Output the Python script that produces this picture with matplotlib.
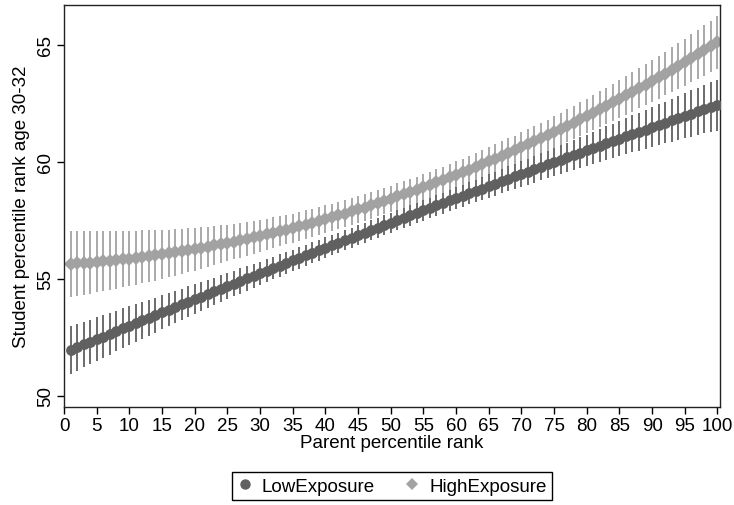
import numpy as np
import matplotlib
matplotlib.use("Agg")
import matplotlib.pyplot as plt
from matplotlib.lines import Line2D

plt.rcParams['font.family'] = ['Liberation Sans', 'DejaVu Sans']

# parent percentile rank 1..100
parent_rank = np.arange(1, 101)

low_mean = [
    51.97, 52.08, 52.20, 52.31, 52.43, 52.54, 52.66, 52.77, 52.89, 53.00,
    53.11, 53.23, 53.34, 53.45, 53.57, 53.68, 53.79, 53.91, 54.02, 54.13,
    54.24, 54.35, 54.47, 54.58, 54.69, 54.80, 54.91, 55.02, 55.13, 55.24,
    55.35, 55.46, 55.57, 55.68, 55.79, 55.90, 56.01, 56.11, 56.22, 56.33,
    56.44, 56.55, 56.65, 56.76, 56.87, 56.97, 57.08, 57.19, 57.29, 57.40,
    57.51, 57.61, 57.72, 57.82, 57.93, 58.03, 58.14, 58.24, 58.35, 58.45,
    58.55, 58.66, 58.76, 58.86, 58.97, 59.07, 59.17, 59.28, 59.38, 59.48,
    59.58, 59.68, 59.79, 59.89, 59.99, 60.09, 60.19, 60.29, 60.39, 60.49,
    60.59, 60.69, 60.79, 60.89, 60.99, 61.09, 61.19, 61.28, 61.38, 61.48,
    61.58, 61.68, 61.77, 61.87, 61.97, 62.06, 62.16, 62.26, 62.35, 62.42,
]
low_ci = [
    1.02, 1.00, 0.98, 0.95, 0.93, 0.91, 0.89, 0.87, 0.85, 0.83,
    0.81, 0.79, 0.77, 0.75, 0.73, 0.71, 0.69, 0.68, 0.66, 0.64,
    0.62, 0.61, 0.59, 0.58, 0.56, 0.55, 0.54, 0.52, 0.51, 0.50,
    0.49, 0.48, 0.48, 0.47, 0.46, 0.46, 0.45, 0.45, 0.44, 0.44,
    0.44, 0.43, 0.43, 0.43, 0.43, 0.43, 0.43, 0.43, 0.43, 0.43,
    0.43, 0.43, 0.44, 0.44, 0.44, 0.44, 0.45, 0.45, 0.46, 0.46,
    0.47, 0.48, 0.48, 0.49, 0.50, 0.51, 0.52, 0.53, 0.54, 0.55,
    0.56, 0.57, 0.58, 0.59, 0.60, 0.61, 0.63, 0.64, 0.66, 0.67,
    0.69, 0.70, 0.72, 0.73, 0.75, 0.77, 0.79, 0.81, 0.83, 0.85,
    0.87, 0.89, 0.92, 0.94, 0.96, 0.99, 1.01, 1.04, 1.06, 1.09,
]

high_mean = [
    55.64, 55.66, 55.68, 55.70, 55.73, 55.75, 55.78, 55.81, 55.84, 55.87,
    55.90, 55.94, 55.97, 56.01, 56.05, 56.09, 56.14, 56.18, 56.23, 56.27,
    56.32, 56.37, 56.43, 56.48, 56.54, 56.59, 56.65, 56.71, 56.77, 56.83,
    56.90, 56.97, 57.03, 57.10, 57.17, 57.24, 57.32, 57.39, 57.47, 57.55,
    57.63, 57.71, 57.79, 57.88, 57.97, 58.05, 58.14, 58.23, 58.33, 58.42,
    58.52, 58.61, 58.71, 58.81, 58.91, 59.02, 59.12, 59.23, 59.34, 59.45,
    59.56, 59.67, 59.78, 59.90, 60.02, 60.14, 60.26, 60.38, 60.50, 60.63,
    60.75, 60.88, 61.01, 61.14, 61.28, 61.41, 61.55, 61.68, 61.82, 61.96,
    62.10, 62.25, 62.39, 62.54, 62.69, 62.84, 62.99, 63.14, 63.30, 63.45,
    63.61, 63.77, 63.93, 64.09, 64.26, 64.42, 64.59, 64.76, 64.93, 65.10,
]
high_ci = [
    1.40, 1.38, 1.35, 1.33, 1.30, 1.28, 1.25, 1.23, 1.20, 1.18,
    1.15, 1.13, 1.10, 1.08, 1.05, 1.02, 1.00, 0.97, 0.95, 0.92,
    0.89, 0.86, 0.84, 0.81, 0.78, 0.76, 0.74, 0.72, 0.70, 0.68,
    0.67, 0.66, 0.64, 0.63, 0.62, 0.61, 0.61, 0.60, 0.60, 0.59,
    0.59, 0.58, 0.58, 0.57, 0.57, 0.57, 0.57, 0.56, 0.56, 0.56,
    0.56, 0.56, 0.56, 0.56, 0.56, 0.56, 0.56, 0.57, 0.57, 0.57,
    0.58, 0.58, 0.59, 0.59, 0.60, 0.61, 0.61, 0.62, 0.62, 0.63,
    0.64, 0.65, 0.65, 0.66, 0.67, 0.68, 0.69, 0.71, 0.72, 0.73,
    0.74, 0.76, 0.77, 0.79, 0.80, 0.82, 0.84, 0.85, 0.87, 0.89,
    0.91, 0.93, 0.96, 0.98, 1.00, 1.03, 1.05, 1.08, 1.10, 1.13,
]

x_ticks = list(range(0, 101, 5))
y_ticks = [50, 55, 60, 65]

low_col = '#606060'
high_col = '#a2a2a2'
fs = 13.5

fig = plt.figure(figsize=(7.34, 5.06), dpi=100)
ax = fig.add_axes([0.0872, 0.1937, 0.8938, 0.7945])

# high exposure first, low drawn on top
ax.errorbar(parent_rank, high_mean, yerr=high_ci, fmt='D', color=high_col,
            ecolor=high_col, elinewidth=1.3, capsize=0, markersize=7,
            markeredgewidth=0, zorder=2)
ax.errorbar(parent_rank, low_mean, yerr=low_ci, fmt='o', color=low_col,
            ecolor=low_col, elinewidth=1.3, capsize=0, markersize=7.8,
            markeredgewidth=0, zorder=3)

ax.set_xlim(0, 100.4)
ax.set_ylim(49.53, 66.7)
ax.set_xticks(x_ticks)
ax.set_yticks(y_ticks)
ax.tick_params(axis='both', direction='out', length=5, width=1,
               labelsize=fs, color='black', pad=2)
for lbl in ax.get_yticklabels():
    lbl.set_rotation(90)
    lbl.set_va('center')
for sp in ax.spines.values():
    sp.set_linewidth(1)
    sp.set_color('#222222')

ax.set_xlabel('Parent percentile rank', fontsize=fs, labelpad=0)
ax.set_ylabel('Student percentile rank age 30-32', fontsize=fs, labelpad=5)

handles = [
    Line2D([], [], marker='o', linestyle='none', color=low_col,
           markersize=7.5, markeredgewidth=0, label='LowExposure'),
    Line2D([], [], marker='D', linestyle='none', color=high_col,
           markersize=6.5, markeredgewidth=0, label='HighExposure'),
]
leg = fig.legend(handles=handles, loc='center', bbox_to_anchor=(0.534, 0.037),
                 ncol=2, fontsize=fs, frameon=True, fancybox=False,
                 edgecolor='black', handlelength=0.8, handletextpad=0.5,
                 columnspacing=1.6, borderpad=0.3, framealpha=1)
leg.get_frame().set_linewidth(1)

fig.savefig('out.png', dpi=100)
